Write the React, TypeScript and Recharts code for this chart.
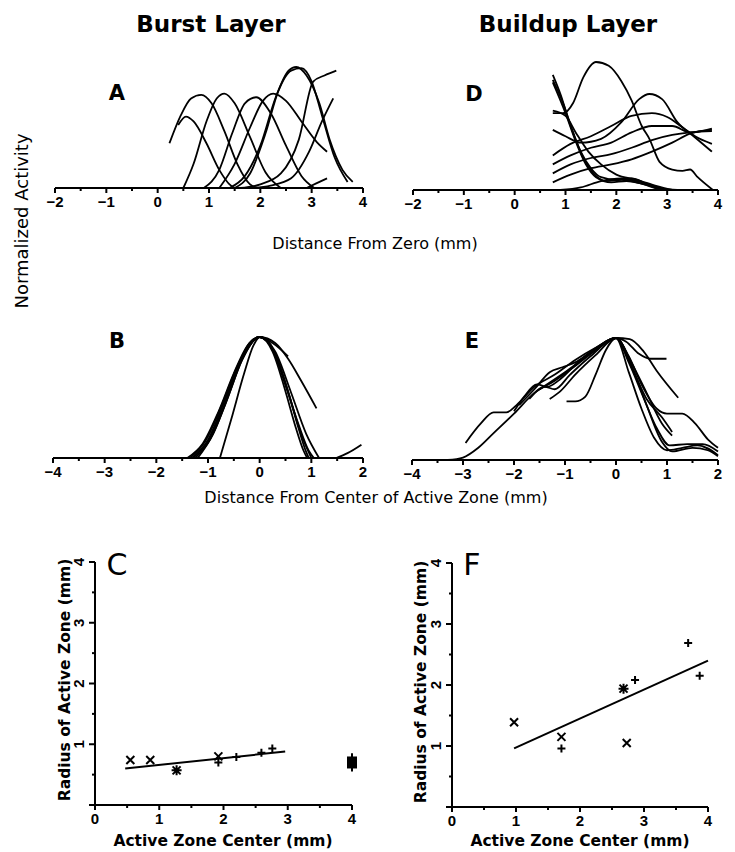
import { LineChart, Line, XAxis, YAxis, ScatterChart, Scatter, ErrorBar } from 'recharts'

type Pt = [number, number]

// Burst layer, raw profiles vs distance from zero (mm)
const burstRaw: Pt[][] = [
  [[0.23, 0.37], [0.45, 0.6], [0.65, 0.74], [0.85, 0.77], [1.05, 0.7], [1.3, 0.47], [1.55, 0.2], [1.8, 0.03], [1.95, 0]],
  [[0.4, 0.52], [0.55, 0.59], [0.7, 0.55], [0.95, 0.37], [1.2, 0.15], [1.4, 0.03], [1.5, 0]],
  [[0.5, 0], [0.7, 0.2], [0.95, 0.55], [1.15, 0.74], [1.3, 0.78], [1.5, 0.7], [1.8, 0.42], [2.1, 0.13], [2.4, 0]],
  [[0.9, 0], [1.2, 0.15], [1.45, 0.45], [1.7, 0.7], [1.92, 0.75], [2.2, 0.62], [2.5, 0.35], [2.8, 0.1], [3.05, 0]],
  [[1.2, 0], [1.5, 0.2], [1.8, 0.5], [2.05, 0.72], [2.25, 0.78], [2.5, 0.72], [2.8, 0.55], [3.1, 0.38], [3.3, 0.3]],
  [[1.4, 0], [1.7, 0.1], [2.0, 0.35], [2.3, 0.75], [2.55, 0.97], [2.7, 1.0], [2.9, 0.93], [3.15, 0.7], [3.35, 0.4], [3.6, 0.15], [3.8, 0.05]],
  [[1.5, 0], [1.8, 0.12], [2.1, 0.45], [2.35, 0.8], [2.6, 0.97], [2.8, 0.99], [3.0, 0.88], [3.2, 0.6], [3.45, 0.25], [3.7, 0.05]],
  [[1.6, 0], [2.0, 0.03], [2.4, 0.12], [2.75, 0.4], [3.03, 0.88], [3.25, 0.93], [3.48, 0.97]],
  [[1.8, 0], [2.2, 0.02], [2.6, 0.08], [2.95, 0.3], [3.2, 0.55], [3.42, 0.74]],
  [[2.9, 0], [3.1, 0.04], [3.3, 0.08]],
]

// Buildup layer, raw profiles vs distance from zero (mm)
const buildupRaw: Pt[][] = [
  [[0.75, 0.6], [0.95, 0.6], [1.15, 0.68], [1.35, 0.88], [1.6, 1.0], [1.85, 0.97], [2.1, 0.85], [2.3, 0.7], [2.5, 0.5], [2.65, 0.4], [2.85, 0.22], [3.1, 0.16], [3.3, 0.15], [3.45, 0.16], [3.6, 0.1], [3.9, 0]],
  [[0.75, 0.47], [1.0, 0.42], [1.3, 0.37], [1.7, 0.4], [2.1, 0.53], [2.45, 0.71], [2.65, 0.75], [2.9, 0.71], [3.2, 0.53], [3.55, 0.41], [3.88, 0.3]],
  [[0.75, 0.27], [1.1, 0.36], [1.5, 0.42], [1.9, 0.5], [2.3, 0.58], [2.7, 0.6], [3.0, 0.57], [3.3, 0.49], [3.55, 0.42], [3.88, 0.36]],
  [[0.75, 0.2], [1.1, 0.27], [1.5, 0.33], [1.9, 0.37], [2.3, 0.45], [2.7, 0.5], [3.1, 0.5], [3.45, 0.45], [3.88, 0.48]],
  [[0.75, 0.13], [1.1, 0.2], [1.5, 0.25], [1.9, 0.28], [2.3, 0.33], [2.7, 0.39], [3.1, 0.43], [3.45, 0.45], [3.88, 0.46]],
  [[0.75, 0.06], [1.1, 0.12], [1.5, 0.17], [1.9, 0.2], [2.3, 0.24], [2.7, 0.3], [3.1, 0.37], [3.45, 0.44], [3.88, 0.47]],
  [[0.75, 0.9], [0.9, 0.75], [1.1, 0.5], [1.3, 0.3], [1.5, 0.17], [1.7, 0.1], [2.0, 0.08], [2.3, 0.09], [2.6, 0.05], [2.9, 0.01]],
  [[0.75, 0.86], [0.95, 0.68], [1.15, 0.45], [1.35, 0.25], [1.55, 0.13], [1.8, 0.07], [2.1, 0.08], [2.4, 0.06], [2.8, 0.01]],
  [[0.75, 0.84], [1.0, 0.6], [1.2, 0.38], [1.4, 0.2], [1.6, 0.1], [1.9, 0.06], [2.2, 0.07], [2.5, 0.05], [2.9, 0]],
  [[0.75, 0.62], [1.0, 0.58], [1.2, 0.45], [1.45, 0.3], [1.7, 0.2], [2.0, 0.12], [2.4, 0.08], [2.8, 0.03], [3.1, 0]],
  [[0.9, 0], [1.3, 0.02], [1.7, 0.07], [2.1, 0.09], [2.5, 0.06], [2.9, 0.01], [3.2, 0]],
]

// Burst layer, profiles aligned on the active zone center (mm)
const burstCentered: Pt[][] = [
  [[-1.4, 0], [-1.1, 0.12], [-0.8, 0.38], [-0.5, 0.7], [-0.25, 0.92], [0, 1], [0.25, 0.9], [0.5, 0.6], [0.75, 0.28], [0.95, 0.06], [1.05, 0]],
  [[-1.35, 0], [-1.05, 0.14], [-0.75, 0.42], [-0.45, 0.74], [-0.2, 0.94], [0, 1], [0.25, 0.88], [0.5, 0.55], [0.7, 0.25], [0.85, 0.06], [0.92, 0]],
  [[-1.3, 0], [-1.0, 0.15], [-0.7, 0.45], [-0.4, 0.78], [-0.2, 0.95], [0, 1], [0.3, 0.88], [0.6, 0.55], [0.9, 0.2], [1.15, 0]],
  [[-1.25, 0], [-0.95, 0.16], [-0.65, 0.46], [-0.35, 0.8], [0, 1], [0.3, 0.86], [0.55, 0.55], [0.75, 0.25], [0.9, 0.05], [0.95, 0]],
  [[-0.77, 0], [-0.55, 0.32], [-0.3, 0.7], [-0.12, 0.93], [0, 1], [0.3, 0.86], [0.55, 0.55], [0.8, 0.2], [1.0, 0]],
  [[-1.3, 0], [-1.0, 0.14], [-0.7, 0.42], [-0.35, 0.82], [0, 1], [0.3, 0.95], [0.55, 0.82], [0.8, 0.64], [1.1, 0.41]],
  [[-1.2, 0], [-0.9, 0.2], [-0.6, 0.52], [-0.3, 0.85], [0, 1], [0.25, 0.95], [0.55, 0.84]],
  [[1.48, 0], [1.7, 0.04], [1.97, 0.11]],
]

// Buildup layer, profiles aligned on the active zone center (mm)
const buildupCentered: Pt[][] = [
  [[-2.95, 0.14], [-2.65, 0.3], [-2.4, 0.39], [-2.15, 0.39], [-1.95, 0.45], [-1.6, 0.6], [-1.2, 0.7], [-0.8, 0.82], [-0.4, 0.92], [0, 1], [0.25, 0.72], [0.5, 0.42], [0.75, 0.18], [1.0, 0.08], [1.3, 0.1], [1.6, 0.12], [2.0, 0.04]],
  [[-3.3, 0], [-3.0, 0.02], [-2.7, 0.1], [-2.4, 0.22], [-2.0, 0.38], [-1.6, 0.55], [-1.2, 0.65], [-0.8, 0.77], [-0.4, 0.9], [0, 1], [0.3, 0.78], [0.6, 0.45], [0.9, 0.15], [1.1, 0.07], [1.5, 0.1], [1.8, 0.08], [2.0, 0.03]],
  [[-2.0, 0.4], [-1.8, 0.52], [-1.55, 0.62], [-1.35, 0.6], [-1.1, 0.66], [-0.7, 0.82], [-0.35, 0.93], [0, 1], [0.2, 0.97], [0.45, 0.87], [0.67, 0.83], [0.99, 0.83]],
  [[-0.97, 0.48], [-0.8, 0.48], [-0.6, 0.52], [-0.4, 0.7], [-0.2, 0.9], [0, 1], [0.3, 0.8], [0.6, 0.55], [0.9, 0.3], [1.1, 0.2]],
  [[-1.9, 0.45], [-1.6, 0.58], [-1.3, 0.72], [-1.05, 0.76], [-0.8, 0.8], [-0.5, 0.88], [0, 1], [0.27, 0.99], [0.54, 0.89], [0.8, 0.73], [1.22, 0.51]],
  [[-1.5, 0.58], [-1.0, 0.72], [-0.5, 0.87], [0, 1], [0.25, 0.85], [0.5, 0.62], [0.8, 0.42], [1.0, 0.38], [1.3, 0.38], [1.55, 0.3], [1.8, 0.17], [2.0, 0.1]],
  [[-1.3, 0.5], [-1.1, 0.56], [-0.8, 0.7], [-0.4, 0.86], [0, 1], [0.25, 0.8], [0.55, 0.5], [0.8, 0.26], [1.05, 0.12], [1.4, 0.13], [1.7, 0.13], [2.0, 0.07]],
  [[-1.7, 0.5], [-1.4, 0.6], [-1.2, 0.58], [-0.9, 0.7], [-0.5, 0.85], [0, 1], [0.35, 0.72], [0.6, 0.5], [0.9, 0.35], [1.1, 0.23]],
]

// Active zone radius vs center (mm); x = single cell, + = other, * = both
const burstCross: Pt[] = [[0.55, 0.74], [0.86, 0.74], [1.92, 0.8]]
const burstPlus: Pt[] = [[1.92, 0.7], [2.2, 0.79], [2.59, 0.86], [2.76, 0.93]]
const burstStar: Pt[] = [[1.27, 0.57]]
const burstFit: Pt[] = [[0.47, 0.6], [2.96, 0.88]]
const burstMean = [{ x: 4.0, y: 0.7, sd: 0.15 }]

const buildupCross: Pt[] = [[0.97, 1.39], [1.71, 1.15], [2.73, 1.05]]
const buildupPlus: Pt[] = [[1.71, 0.96], [2.86, 2.08], [3.69, 2.69], [3.87, 2.15]]
const buildupStar: Pt[] = [[2.68, 1.94]]
const buildupFit: Pt[] = [[0.97, 0.96], [4.0, 2.4]]

const zeroTicks = [-2, -1.5, -1, -0.5, 0, 0.5, 1, 1.5, 2, 2.5, 3, 3.5, 4]
const centerTicks = [-4, -3.5, -3, -2.5, -2, -1.5, -1, -0.5, 0, 0.5, 1, 1.5, 2]
const zoneTicks = [0, 0.5, 1, 1.5, 2, 2.5, 3, 3.5, 4]

const FONT = '"DejaVu Sans", sans-serif'
const TICK_FONT = '"Liberation Sans", Arial, sans-serif'
const PAD = 30
const axisStyle = { stroke: '#000', strokeWidth: 2 }

const toRows = (pts: Pt[]) => pts.map(([x, y]) => ({ x, y }))
const fmt = (v: number) => (v < 0 ? `\u2212${-v}` : `${v}`)

function BottomTick(props: any) {
  const { x, y, payload } = props
  const v = payload.value as number
  const major = Number.isInteger(v)
  return (
    <g>
      <line x1={x} x2={x} y1={y} y2={y + (major ? 5 : 3)} stroke="#000" strokeWidth={2} />
      {major && (
        <text x={x} y={y + 19} textAnchor="middle" fontFamily={TICK_FONT} fontWeight="bold" fontSize={15}>
          {fmt(v)}
        </text>
      )}
    </g>
  )
}

function LeftTick(props: any) {
  const { x, y, payload } = props
  const v = payload.value as number
  const major = Number.isInteger(v)
  return (
    <g>
      <line x1={x} x2={x - (major ? 6 : 3)} y1={y} y2={y} stroke="#000" strokeWidth={2} />
      {major && v !== 0 && (
        <text transform={`translate(${x - 11},${y}) rotate(-90)`} textAnchor="middle" fontFamily={TICK_FONT} fontWeight="bold" fontSize={15}>
          {v}
        </text>
      )}
    </g>
  )
}

const Cross = ({ cx, cy }: any) => (
  <path d={`M${cx - 4},${cy - 4}L${cx + 4},${cy + 4}M${cx - 4},${cy + 4}L${cx + 4},${cy - 4}`} stroke="#000" strokeWidth={2} />
)
const Plus = ({ cx, cy }: any) => (
  <path d={`M${cx - 4},${cy}L${cx + 4},${cy}M${cx},${cy - 4}L${cx},${cy + 4}`} stroke="#000" strokeWidth={2} />
)
const Star = ({ cx, cy }: any) => (
  <path
    d={`M${cx - 4},${cy - 4}L${cx + 4},${cy + 4}M${cx - 4},${cy + 4}L${cx + 4},${cy - 4}M${cx - 5},${cy}L${cx + 5},${cy}M${cx},${cy - 5}L${cx},${cy + 5}`}
    stroke="#000"
    strokeWidth={2}
  />
)
const MeanBox = ({ cx, cy }: any) => <rect x={cx - 5} y={cy - 6} width={10} height={12} fill="#000" />
const NoDot = () => <g />

interface Box {
  left: number
  top: number
  width: number
  height: number
}

function CurvePanel({ curves, ticks, plot }: { curves: Pt[][]; ticks: number[]; plot: Box }) {
  return (
    <div style={{ position: 'absolute', left: plot.left - PAD, top: plot.top - PAD }}>
      <LineChart
        width={plot.width + 2 * PAD}
        height={plot.height + 2 * PAD}
        margin={{ top: PAD, right: PAD, bottom: 0, left: PAD }}
      >
        <XAxis
          type="number"
          dataKey="x"
          domain={[ticks[0], ticks[ticks.length - 1]]}
          ticks={ticks}
          interval={0}
          height={PAD}
          tickSize={0}
          tickMargin={0}
          tickLine={false}
          axisLine={axisStyle}
          tick={<BottomTick />}
        />
        <YAxis type="number" dataKey="y" domain={[0, 1]} hide />
        {curves.map((c, i) => (
          <Line
            key={i}
            data={toRows(c)}
            dataKey="y"
            type="monotone"
            stroke="#000"
            strokeWidth={1.8}
            dot={false}
            isAnimationActive={false}
          />
        ))}
      </LineChart>
    </div>
  )
}

interface ZoneProps {
  plot: Box
  crosses: Pt[]
  pluses: Pt[]
  stars: Pt[]
  fit: Pt[]
  mean?: { x: number; y: number; sd: number }[]
}

function ZonePanel({ plot, crosses, pluses, stars, fit, mean }: ZoneProps) {
  return (
    <div style={{ position: 'absolute', left: plot.left - PAD, top: plot.top - PAD }}>
      <ScatterChart
        width={plot.width + 2 * PAD}
        height={plot.height + 2 * PAD}
        margin={{ top: PAD, right: PAD, bottom: 0, left: PAD - 1 }}
      >
        <XAxis
          type="number"
          dataKey="x"
          domain={[0, 4]}
          ticks={zoneTicks}
          interval={0}
          height={PAD}
          tickSize={0}
          tickMargin={0}
          tickLine={false}
          axisLine={axisStyle}
          tick={<BottomTick />}
        />
        <YAxis
          type="number"
          dataKey="y"
          domain={[0, 4]}
          ticks={zoneTicks}
          interval={0}
          width={1}
          tickSize={0}
          tickMargin={0}
          tickLine={false}
          axisLine={axisStyle}
          tick={<LeftTick />}
        />
        <Scatter data={toRows(fit)} line={{ stroke: '#000', strokeWidth: 2 }} shape={NoDot} isAnimationActive={false} />
        <Scatter data={toRows(crosses)} shape={Cross} isAnimationActive={false} />
        <Scatter data={toRows(pluses)} shape={Plus} isAnimationActive={false} />
        <Scatter data={toRows(stars)} shape={Star} isAnimationActive={false} />
        {mean && (
          <Scatter data={mean} shape={MeanBox} isAnimationActive={false}>
            <ErrorBar dataKey="sd" direction="y" width={0} stroke="#000" strokeWidth={2} />
          </Scatter>
        )}
      </ScatterChart>
    </div>
  )
}

export default function App() {
  return (
    <div style={{ position: 'absolute', left: 0, top: 0, width: 735, height: 852, background: '#fff' }}>
      <CurvePanel curves={burstRaw} ticks={zeroTicks} plot={{ left: 55, top: 67, width: 308, height: 121 }} />
      <CurvePanel curves={buildupRaw} ticks={zeroTicks} plot={{ left: 413, top: 62, width: 305, height: 128 }} />
      <CurvePanel curves={burstCentered} ticks={centerTicks} plot={{ left: 53, top: 337, width: 310, height: 121 }} />
      <CurvePanel curves={buildupCentered} ticks={centerTicks} plot={{ left: 412, top: 338, width: 306, height: 122 }} />
      <ZonePanel
        plot={{ left: 95, top: 562, width: 257, height: 243 }}
        crosses={burstCross}
        pluses={burstPlus}
        stars={burstStar}
        fit={burstFit}
        mean={burstMean}
      />
      <ZonePanel
        plot={{ left: 452, top: 563, width: 256, height: 244 }}
        crosses={buildupCross}
        pluses={buildupPlus}
        stars={buildupStar}
        fit={buildupFit}
      />
      <svg width={735} height={852} style={{ position: 'absolute', left: 0, top: 0, pointerEvents: 'none' }}>
        <g fontFamily={FONT} fill="#000">
          <text x={211} y={32} textAnchor="middle" fontWeight="bold" fontSize={23}>Burst Layer</text>
          <text x={568} y={32} textAnchor="middle" fontWeight="bold" fontSize={23}>Buildup Layer</text>
          <text x={117} y={100} textAnchor="middle" fontWeight="bold" fontSize={21}>A</text>
          <text x={474} y={101} textAnchor="middle" fontWeight="bold" fontSize={21}>D</text>
          <text x={117} y={348} textAnchor="middle" fontWeight="bold" fontSize={21}>B</text>
          <text x={472} y={348} textAnchor="middle" fontWeight="bold" fontSize={21}>E</text>
          <text x={117} y={575} textAnchor="middle" fontSize={30}>C</text>
          <text x={472} y={575} textAnchor="middle" fontSize={30}>F</text>
          <text transform="translate(28,221) rotate(-90)" textAnchor="middle" fontSize={18}>Normalized Activity</text>
          <text x={375} y={249} textAnchor="middle" fontSize={16}>Distance From Zero (mm)</text>
          <text x={376} y={503} textAnchor="middle" fontSize={16}>Distance From Center of Active Zone (mm)</text>
          <text transform="translate(70,680) rotate(-90)" textAnchor="middle" fontWeight="bold" fontSize={15.5}>Radius of Active Zone (mm)</text>
          <text transform="translate(426,682) rotate(-90)" textAnchor="middle" fontWeight="bold" fontSize={15.5}>Radius of Active Zone (mm)</text>
          <text x={223} y={846} textAnchor="middle" fontWeight="bold" fontSize={15.5}>Active Zone Center (mm)</text>
          <text x={580} y={846} textAnchor="middle" fontWeight="bold" fontSize={15.5}>Active Zone Center (mm)</text>
        </g>
      </svg>
    </div>
  )
}
